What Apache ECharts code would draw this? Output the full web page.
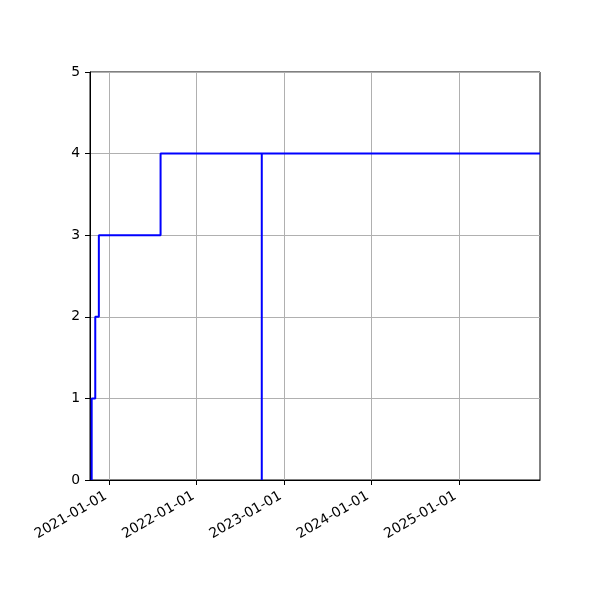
<!DOCTYPE html>
<html>
<head>
<meta charset="utf-8">
<script src="https://cdn.jsdelivr.net/npm/echarts@6/dist/echarts.min.js"></script>
<style>html,body{margin:0;padding:0;background:#fff}#c{width:600px;height:600px}</style>
</head>
<body>
<div id="c"></div>
<script>
var dates = ['2020-10-19','2020-10-19','2020-11-03','2020-11-18','2021-08-03','2022-09-30','2022-09-30','2025-12-06'];
var values = [0, 1, 2, 3, 4, 0, 4, 4];
var xTicks = ['2021-01-01','2022-01-01','2023-01-01','2024-01-01','2025-01-01'];
var xMin = '2020-10-12';
var xMax = '2025-12-06';
var yTicks = [0, 1, 2, 3, 4, 5];

function ts(d){ return new Date(d + 'T00:00:00Z').getTime(); }
var tickTs = xTicks.map(ts);
var data = dates.map(function(d, i){ return [ts(d), values[i]]; });
function fmt(v){
  var d = new Date(v);
  var p = function(n){ return (n < 10 ? '0' : '') + n; };
  return d.getUTCFullYear() + '-' + p(d.getUTCMonth() + 1) + '-' + p(d.getUTCDate());
}
var chart = echarts.init(document.getElementById('c'), null, {renderer: 'canvas'});
chart.setOption({
  animation: false,
  grid: {left: 90, right: 60, top: 72, bottom: 120, show: true, borderColor: '#000', borderWidth: 1, containLabel: false},
  xAxis: {
    type: 'value',
    min: ts(xMin),
    max: ts(xMax),
    axisLine: {show: true, onZero: false, lineStyle: {color: '#000', width: 1}},
    axisTick: {show: true, inside: false, length: 5, customValues: tickTs, lineStyle: {color: '#000'}},
    axisLabel: {customValues: tickTs, formatter: function(v){ return fmt(v); }, rotate: 30, color: '#000', fontFamily: 'DejaVu Sans', fontSize: 13.9, margin: 13, padding: [0, 4, 0, 0]},
    splitLine: {show: true, lineStyle: {color: '#b0b0b0', width: 1}}
  },
  yAxis: {
    type: 'value',
    min: yTicks[0],
    max: yTicks[yTicks.length - 1],
    interval: 1,
    axisLine: {show: true, lineStyle: {color: '#000', width: 1}},
    axisTick: {show: true, inside: false, length: 5, lineStyle: {color: '#000'}},
    axisLabel: {color: '#000', fontFamily: 'DejaVu Sans', fontSize: 13.9, margin: 10},
    splitLine: {show: true, lineStyle: {color: '#b0b0b0', width: 1}}
  },
  series: [{
    type: 'line',
    step: 'end',
    data: data,
    showSymbol: false,
    symbol: 'none',
    lineStyle: {color: '#0000ff', width: 2},
    itemStyle: {color: '#0000ff'}
  }]
});
</script>
</body>
</html>
